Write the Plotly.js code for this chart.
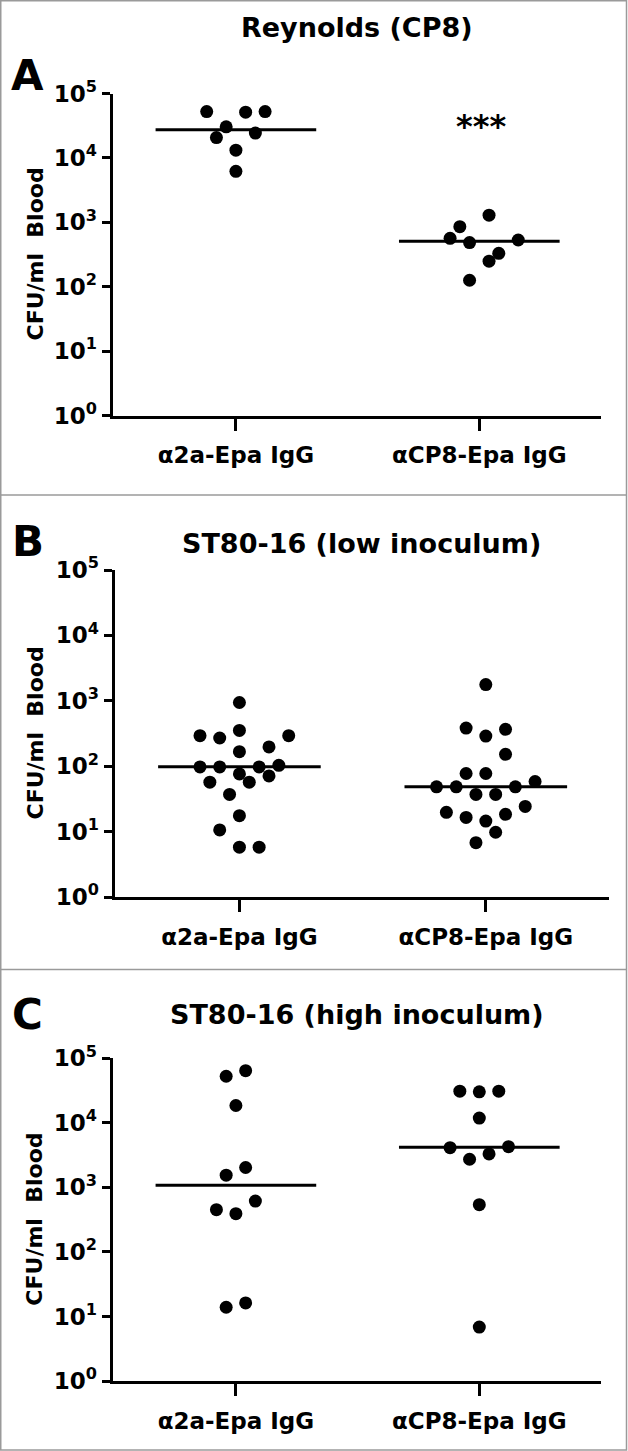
<!DOCTYPE html>
<html>
<head>
<meta charset="utf-8">
<script src="https://cdn.plot.ly/plotly-3.0.1.min.js"></script>
<style>
  html, body { margin: 0; padding: 0; background: #fff; }
  #chart { width: 628px; height: 1451px; }
</style>
</head>
<body>
<div id="chart"></div>
<script>
// ---------------- DATA ----------------
const categories = ["α2a-Epa IgG", "αCP8-Epa IgG"];
const panelTitles = ["Reynolds (CP8)", "ST80-16 (low inoculum)", "ST80-16 (high inoculum)"];
const panelLetters = ["A", "B", "C"];
const yTickVals = [1, 10, 100, 1000, 10000, 100000];
const yTickText = ["10<sup>0</sup>", "10<sup>1</sup>", "10<sup>2</sup>", "10<sup>3</sup>", "10<sup>4</sup>", "10<sup>5</sup>"];
const yTitle = "CFU/ml\u00a0 Blood";

// Panel A (Reynolds, CP8)
const aGroup1 = [52400, 51200, 52400, 30400, 20700, 24300, 13200, 6180];
const aGroup1Slot = [-3, 1, 3, -1, -2, 2, 0, 0];
const aGroup2 = [1290, 855, 564, 484, 531, 330, 249, 126];
const aGroup2Slot = [1, -2, -3, -1, 4, 2, 1, -1];
const aMedians = [27300, 507];
const aSignif = "***";

// Panel B (ST80-16, low inoculum)
const bGroup1 = [942, 293, 270, 353, 293, 167, 197, 97.5, 97.5, 97.5, 103, 76.3, 71.1, 57, 57, 37, 17.5, 10.6, 5.77, 5.77];
const bGroup1Slot = [0, -4, -2, 0, 5, 0, 3, -4, -2, 2, 4, 0, 3, -3, 1, -1, 0, -2, 0, 2];
const bGroup2 = [1773, 383, 366, 289, 152, 77.3, 77.3, 48.3, 48.3, 48.3, 58.4, 37, 37, 24.3, 19.7, 16.5, 18.4, 14.5, 9.77, 6.78];
const bGroup2Slot = [0, -2, 2, 0, 2, -2, 0, -5, -3, 3, 5, -1, 1, 4, -4, -2, 2, 0, 1, -1];
const bMedians = [98, 48.3];

// Panel C (ST80-16, high inoculum)
const cGroup1 = [52700, 64300, 18550, 1545, 2031, 452, 392, 614, 13.9, 16.2];
const cGroup1Slot = [-1, 1, 0, -1, 1, -2, 0, 2, -1, 1];
const cGroup2 = [30900, 30200, 30900, 11860, 4130, 4280, 2728, 3303, 540, 6.85];
const cGroup2Slot = [-2, 0, 2, 0, -3, 3, -1, 1, 0, 0];
const cMedians = [1083, 4178];

// ---------------- LAYOUT CONSTANTS ----------------
const W = 628, H = 1451;
const SLOT = 0.04;      // horizontal spacing of scatter-dot columns (axis units)
const HALF = 0.33;      // half width of median line
const XRANGE = [-0.507, 1.5];
const FONT = "DejaVu Sans";

const panels = [
  {g1: aGroup1, s1: aGroup1Slot, g2: aGroup2, s2: aGroup2Slot, med: aMedians,
   box: {l: 112.5, r: 601, t: 93.5, b: 415.5}, title: {x: 357, y: 27.5}, letter: {x: 28, y: 76}},
  {g1: bGroup1, s1: bGroup1Slot, g2: bGroup2, s2: bGroup2Slot, med: bMedians,
   box: {l: 114.5, r: 609, t: 570, b: 897}, title: {x: 361, y: 543}, letter: {x: 28, y: 541}},
  {g1: cGroup1, s1: cGroup1Slot, g2: cGroup2, s2: cGroup2Slot, med: cMedians,
   box: {l: 112.5, r: 601, t: 1058.3, b: 1381}, title: {x: 357, y: 1014}, letter: {x: 28, y: 1014}}
];

const px = v => v / W;
const py = v => 1 - v / H;

const traces = [];
const layout = {
  width: W, height: H,
  margin: {l: 0, r: 0, t: 0, b: 0},
  paper_bgcolor: "#fff", plot_bgcolor: "#fff",
  showlegend: false,
  font: {family: FONT, color: "#000"},
  annotations: [], shapes: []
};

panels.forEach((p, i) => {
  const n = i === 0 ? "" : String(i + 1);
  const xa = "x" + n, ya = "y" + n;
  [[p.g1, p.s1, 0], [p.g2, p.s2, 1]].forEach(([vals, slots, c]) => {
    traces.push({
      type: "scatter", mode: "markers", xaxis: xa, yaxis: ya,
      x: slots.map(s => c + s * SLOT), y: vals,
      marker: {color: "#000", size: 13, line: {width: 0}},
      hoverinfo: "skip", cliponaxis: false
    });
    traces.push({
      type: "scatter", mode: "lines", xaxis: xa, yaxis: ya,
      x: [c - HALF, c + HALF], y: [p.med[c], p.med[c]],
      line: {color: "#000", width: 3}, hoverinfo: "skip"
    });
  });
  layout["xaxis" + n] = {
    domain: [px(p.box.l), px(p.box.r)], anchor: ya,
    range: XRANGE, fixedrange: true,
    tickmode: "array", tickvals: [0, 1], ticktext: categories,
    ticks: "outside", ticklen: 12, tickwidth: 3, tickcolor: "#000",
    ticklabelstandoff: 5,
    showline: true, linewidth: 3, linecolor: "#000",
    showgrid: false, zeroline: false,
    tickfont: {family: FONT, size: 23, weight: "bold", color: "#000"}
  };
  layout["yaxis" + n] = {
    domain: [py(p.box.b), py(p.box.t)], anchor: xa,
    type: "log", range: [0, 5], fixedrange: true,
    tickmode: "array", tickvals: yTickVals, ticktext: yTickText,
    ticks: "outside", ticklen: 8, tickwidth: 3, tickcolor: "#000",
    showline: true, linewidth: 3, linecolor: "#000",
    showgrid: false, zeroline: false,
    tickfont: {family: FONT, size: 23, weight: "bold", color: "#000"}
  };
  layout.annotations.push({
    xref: "paper", yref: "paper", x: px(p.title.x), y: py(p.title.y),
    xanchor: "center", yanchor: "middle", showarrow: false,
    text: panelTitles[i], font: {family: FONT, size: 27, weight: "bold", color: "#000"}
  });
  layout.annotations.push({
    xref: "paper", yref: "paper", x: px(p.letter.x), y: py(p.letter.y),
    xanchor: "center", yanchor: "middle", showarrow: false,
    text: panelLetters[i], font: {family: FONT, size: 42, weight: "bold", color: "#000"}
  });
  layout.annotations.push({
    xref: "paper", yref: "paper", x: px(35), y: py((p.box.t + p.box.b) / 2),
    xanchor: "center", yanchor: "middle", showarrow: false, textangle: -90,
    text: yTitle, font: {family: FONT, size: 22, weight: "bold", color: "#000"}
  });
});

// significance marker, panel A
layout.annotations.push({
  xref: "paper", yref: "paper", x: px(481), y: py(126),
  xanchor: "center", yanchor: "middle", showarrow: false,
  text: aSignif, font: {family: FONT, size: 32, weight: "bold", color: "#000"}
});

// panel frames
const frameLine = {color: "#9a9a9a", width: 1.5};
layout.shapes.push({type: "rect", xref: "paper", yref: "paper",
  x0: px(0.75), x1: px(626.5), y0: py(1450), y1: py(0.75), line: frameLine});
[495, 969.5].forEach(yy => layout.shapes.push({type: "line", xref: "paper", yref: "paper",
  x0: px(0.75), x1: px(626.5), y0: py(yy), y1: py(yy), line: frameLine}));

Plotly.newPlot("chart", traces, layout, {staticPlot: true, displayModeBar: false});
</script>
</body>
</html>
